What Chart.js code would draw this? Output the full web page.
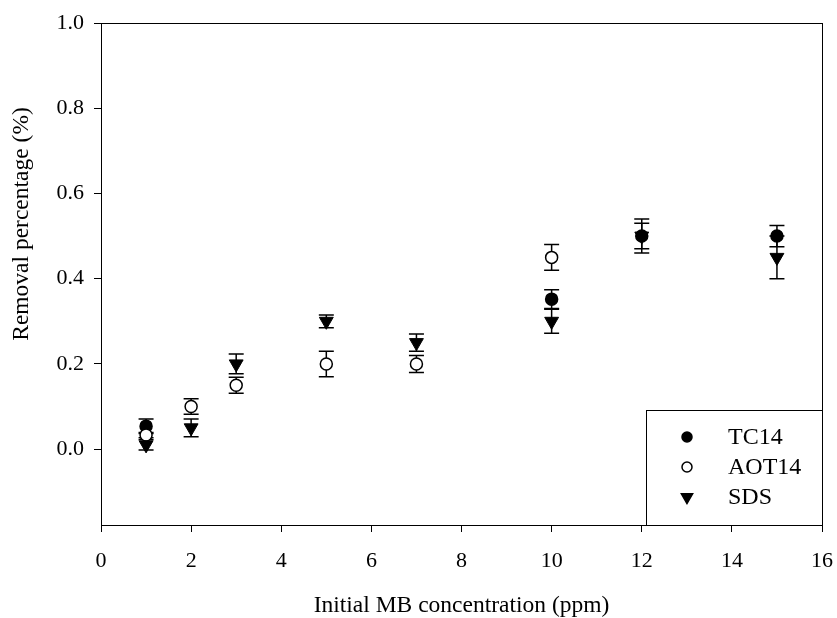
<!DOCTYPE html>
<html>
<head>
<meta charset="utf-8">
<script src="https://cdn.jsdelivr.net/npm/chart.js@4/dist/chart.umd.min.js"></script>
<style>
  html, body { margin: 0; padding: 0; background: #fff; }
  #wrap { width: 837px; height: 618px; }
</style>
</head>
<body>
<div id="wrap"><canvas id="myChart" width="837" height="618"></canvas></div>
<script>
// MB removal data, mean and error for each surfactant
var tcX = [1, 10, 12, 15];
var tcY = [0.054, 0.352, 0.50, 0.50];
var tcErr = [0.017, 0.022, 0.04, 0.025];

var aotX = [1, 2, 3, 5, 7, 10];
var aotY = [0.033, 0.10, 0.15, 0.20, 0.20, 0.45];
var aotErr = [0.006, 0.018, 0.019, 0.03, 0.02, 0.03];

var sdsX = [1, 2, 3, 5, 7, 10, 12, 15];
var sdsY = [0.01, 0.05, 0.20, 0.30, 0.25, 0.30, 0.50, 0.45];
var sdsErr = [0.012, 0.021, 0.023, 0.015, 0.02, 0.028, 0.03, 0.05];

var xTicks = [0, 2, 4, 6, 8, 10, 12, 14, 16];
var yTicks = [0.0, 0.2, 0.4, 0.6, 0.8, 1.0];

var yTitle = 'Removal percentage (%)';
var FONT = 'Liberation Serif';

function points(xs, ys) {
    return xs.map(function (x, i) { return { x: x, y: ys[i] }; });
}

// vertical error bars with caps, drawn under the markers
var errorBars = {
    id: 'errorBars',
    beforeDatasetsDraw: function (chart) {
        var ctx = chart.ctx;
        var xs = chart.scales.x, ys = chart.scales.y;
        ctx.save();
        ctx.strokeStyle = '#000';
        ctx.lineWidth = 1.5;
        chart.data.datasets.forEach(function (ds) {
            ds.data.forEach(function (p, i) {
                var e = ds.errors[i];
                var px = xs.getPixelForValue(p.x);
                var top = ys.getPixelForValue(p.y + e);
                var bot = ys.getPixelForValue(p.y - e);
                ctx.beginPath();
                ctx.moveTo(px, top); ctx.lineTo(px, bot);
                ctx.moveTo(px - 7.5, top); ctx.lineTo(px + 7.5, top);
                ctx.moveTo(px - 7.5, bot); ctx.lineTo(px + 7.5, bot);
                ctx.stroke();
            });
        });
        ctx.restore();
    }
};

// full frame round the plot, the y title and the boxed key in the lower right corner
var frameAndKey = {
    id: 'frameAndKey',
    afterDraw: function (chart) {
        var ctx = chart.ctx;
        var a = chart.chartArea;
        ctx.save();
        ctx.strokeStyle = '#000';
        ctx.lineWidth = 1;
        ctx.strokeRect(a.left + 0.5, a.top + 0.5, a.right - a.left, a.bottom - a.top);

        // y title sits level with the 0..1 part of the axis
        ctx.save();
        ctx.translate(22, 224);
        ctx.rotate(-Math.PI / 2);
        ctx.font = '23.5px "' + FONT + '"';
        ctx.textAlign = 'center';
        ctx.textBaseline = 'middle';
        ctx.fillStyle = '#000';
        ctx.fillText(yTitle, 0, 0);
        ctx.restore();

        var bx = 646, by = 410;
        ctx.fillStyle = '#fff';
        ctx.fillRect(bx, by, a.right - bx, a.bottom - by);
        ctx.strokeRect(bx + 0.5, by + 0.5, a.right - bx, a.bottom - by);

        var rows = [437, 467, 497];
        ctx.font = '24px "' + FONT + '"';
        ctx.textBaseline = 'middle';
        chart.data.datasets.forEach(function (ds, i) {
            var y = rows[i];
            ctx.fillStyle = ds.pointBackgroundColor;
            ctx.strokeStyle = '#000';
            ctx.lineWidth = 1.5;
            Chart.helpers.drawPoint(ctx, {
                pointStyle: ds.pointStyle,
                radius: ds.pointStyle === 'triangle' ? 6.5 : 5,
                rotation: ds.pointRotation || 0,
                borderWidth: 1.5
            }, 687, y);
            ctx.fillStyle = '#000';
            ctx.fillText(ds.label, 728, y + 1);
        });
        ctx.restore();
    }
};

var ctx = document.getElementById('myChart').getContext('2d');
var chart = new Chart(ctx, {
    type: 'scatter',
    data: {
        datasets: [
            {
                label: 'TC14',
                data: points(tcX, tcY),
                errors: tcErr,
                pointStyle: 'circle',
                pointRadius: 6,
                pointBackgroundColor: '#000',
                pointBorderColor: '#000',
                pointBorderWidth: 1.5,
                order: 2
            },
            {
                label: 'AOT14',
                data: points(aotX, aotY),
                errors: aotErr,
                pointStyle: 'circle',
                pointRadius: 6,
                pointBackgroundColor: '#fff',
                pointBorderColor: '#000',
                pointBorderWidth: 1.5,
                order: 1
            },
            {
                label: 'SDS',
                data: points(sdsX, sdsY),
                errors: sdsErr,
                pointStyle: 'triangle',
                pointRotation: 180,
                pointRadius: 8,
                pointBackgroundColor: '#000',
                pointBorderColor: '#000',
                pointBorderWidth: 1,
                order: 0
            }
        ]
    },
    options: {
        responsive: false,
        animation: false,
        events: [],
        layout: { padding: { top: 23, right: 15, left: 0, bottom: 0 } },
        plugins: {
            legend: { display: false },
            tooltip: { enabled: false }
        },
        scales: {
            x: {
                type: 'linear',
                min: 0,
                max: 16,
                afterBuildTicks: function (s) { s.ticks = xTicks.map(function (v) { return { value: v }; }); },
                afterFit: function (s) { s.height = 93; s.paddingLeft = 0; s.paddingRight = 0; },
                border: { color: '#000', width: 1 },
                grid: { drawOnChartArea: false, drawTicks: true, tickLength: 7, color: '#000' },
                ticks: { color: '#000', font: { family: FONT, size: 22 }, padding: 16, maxRotation: 0 },
                title: {
                    display: true,
                    text: 'Initial MB concentration (ppm)',
                    color: '#000',
                    font: { family: FONT, size: 23.5, lineHeight: 1 },
                    padding: { top: 0, bottom: 0 }
                }
            },
            y: {
                type: 'linear',
                min: -0.178,
                max: 1.0,
                afterBuildTicks: function (s) { s.ticks = yTicks.map(function (v) { return { value: v }; }); },
                afterFit: function (s) { s.width = 101; s.paddingTop = 0; s.paddingBottom = 0; },
                border: { color: '#000', width: 1 },
                grid: { drawOnChartArea: false, drawTicks: true, tickLength: 7, color: '#000' },
                ticks: {
                    color: '#000',
                    font: { family: FONT, size: 22 },
                    padding: 10,
                    callback: function (v) { return Number(v).toFixed(1); }
                },
                title: { display: false }
            }
        }
    },
    plugins: [errorBars, frameAndKey]
});
</script>
</body>
</html>
